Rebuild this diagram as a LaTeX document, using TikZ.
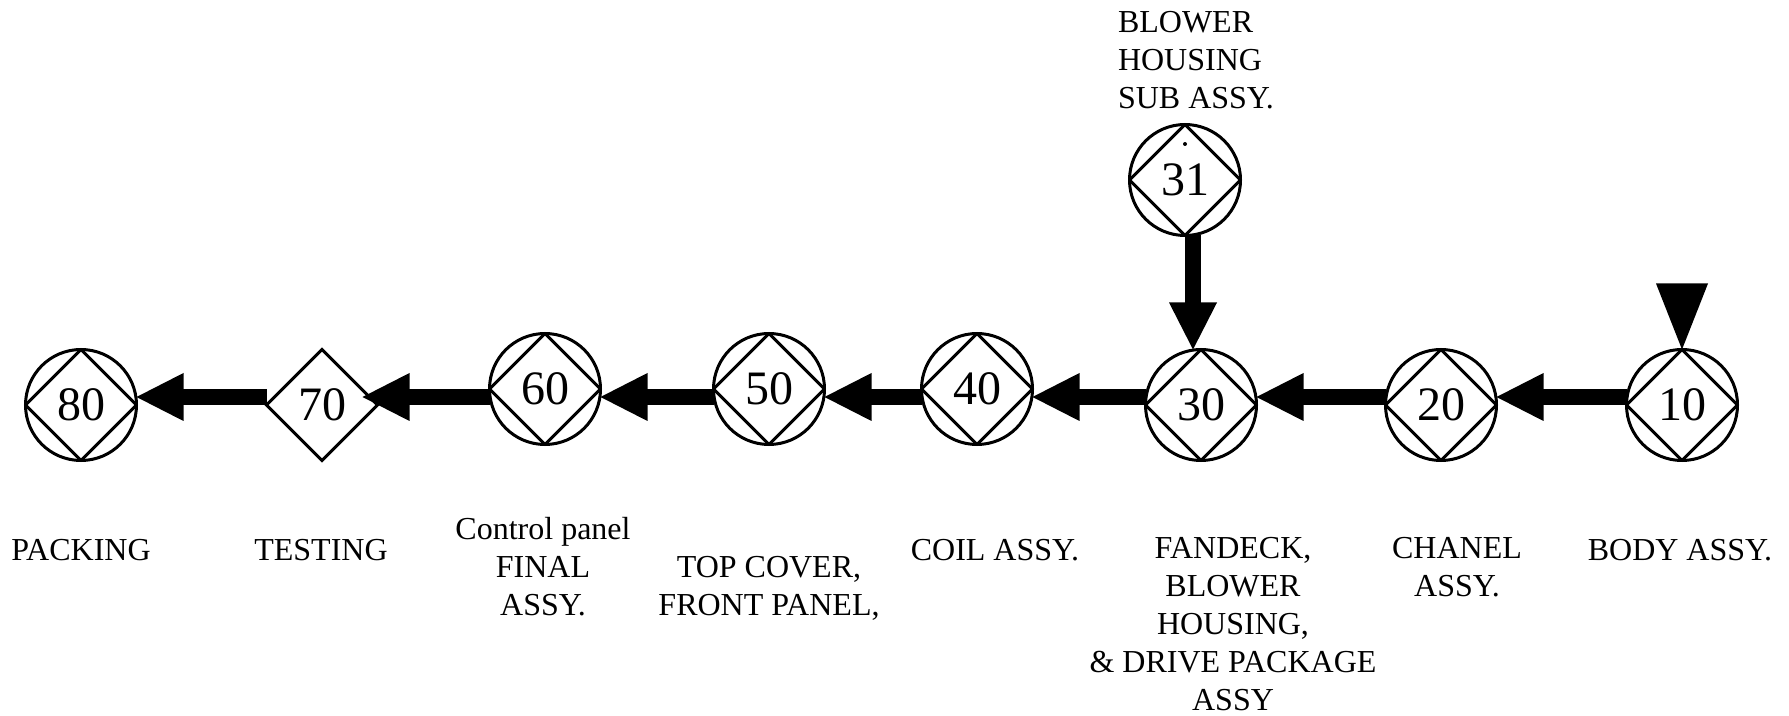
\documentclass[tikz,border=0pt]{standalone}
\usepackage{fontspec}
\setmainfont{Liberation Serif}
\usetikzlibrary{calc,shapes.geometric}
\tikzset{
  opcircle/.style={circle, draw, line width=1.5pt, minimum size=55.5pt, inner sep=0pt, outer sep=0pt,
    font=\fontsize{24}{28}\selectfont,
    path picture={\draw[line width=1.5pt] (path picture bounding box.north) -- (path picture bounding box.east)
      -- (path picture bounding box.south) -- (path picture bounding box.west) -- cycle;}},
  opdiamond/.style={diamond, draw, line width=1.5pt, aspect=1, minimum width=55.5pt, minimum height=55.5pt,
    inner sep=0pt, outer sep=0pt, font=\fontsize{24}{28}\selectfont},
  shaft/.style={line width=8pt},
  head/.style={fill=black},
  lbl/.style={font=\fontsize{16}{19}\selectfont, align=center, inner sep=0pt, outer sep=0pt}
}
% horizontal flow arrow pointing left: #1 = tail point, #2 = tip point
\newcommand{\leftflow}[2]{%
  \draw[shaft] #1 -- ($#2+(46,0)$);
  \fill[head] #2 -- ++(47,-24) -- ++(0,48) -- cycle;}
\begin{document}
\begin{tikzpicture}[x=0.5pt,y=-0.5pt]
\useasboundingbox (0,0) rectangle (1789,716);
% operation nodes
\node[opcircle]  (n80) at (81,405)   {80};
\node[opdiamond] (n70) at (322,405)  {70};
\node[opcircle]  (n60) at (545,389)  {60};
\node[opcircle]  (n50) at (769,389)  {50};
\node[opcircle]  (n40) at (977,389)  {40};
\node[opcircle]  (n30) at (1201,405) {30};
\node[opcircle]  (n20) at (1441,405) {20};
\node[opcircle]  (n10) at (1682,405) {10};
\node[opcircle]  (n31) at (1185,180) {31};
\fill (1185,144) circle (1pt);
% flow line level
\coordinate (L) at (0,397);
\leftflow{(n10.west |- L)}{(n20.east |- L)}
\leftflow{(n20.west |- L)}{(n30.east |- L)}
\leftflow{(n30.west |- L)}{(n40.east |- L)}
\leftflow{(n40.west |- L)}{(n50.east |- L)}
\leftflow{(n50.west |- L)}{(n60.east |- L)}
\coordinate (t70) at ($(n70.east |- L)+(-15,0)$);
\leftflow{(n60.west |- L)}{(t70)}
\leftflow{(n70.west |- L)}{(n80.east |- L)}
% sub-assembly feed 31 -> 30
\coordinate (t30) at ([xshift=-4pt]n30.north);
\draw[shaft] ([xshift=4pt]n31.south) -- ($(t30)+(0,-46)$);
\fill[head] (t30) -- ++(-24,-47) -- ++(48,0) -- cycle;
% start marker
\fill[head] (n10.north) -- ++(-26,-66) -- ++(52,0) -- cycle;
% labels
\node[lbl, align=left, anchor=north west] (l31) at (1118,11) {BLOWER\\HOUSING\\SUB ASSY.};
\node[lbl, anchor=base]  (l80) at (81,560)   {PACKING};
\node[lbl, anchor=base]  (l70) at (321,560)  {TESTING};
\node[lbl, anchor=north] (l60) at (543,517)  {Control panel\\FINAL\\ASSY.};
\node[lbl, anchor=north] (l50) at (769,556)  {TOP COVER,\\FRONT PANEL,};
\node[lbl, anchor=base]  (l40) at (995,560)  {COIL ASSY.};
\node[lbl, anchor=north] (l30) at (1233,537) {FANDECK,\\BLOWER\\HOUSING,\\\& DRIVE PACKAGE\\ASSY};
\node[lbl, anchor=north] (l20) at (1457,537) {CHANEL\\ASSY.};
\node[lbl, anchor=base]  (l10) at (1680,560) {BODY ASSY.};
\end{tikzpicture}
\end{document}
